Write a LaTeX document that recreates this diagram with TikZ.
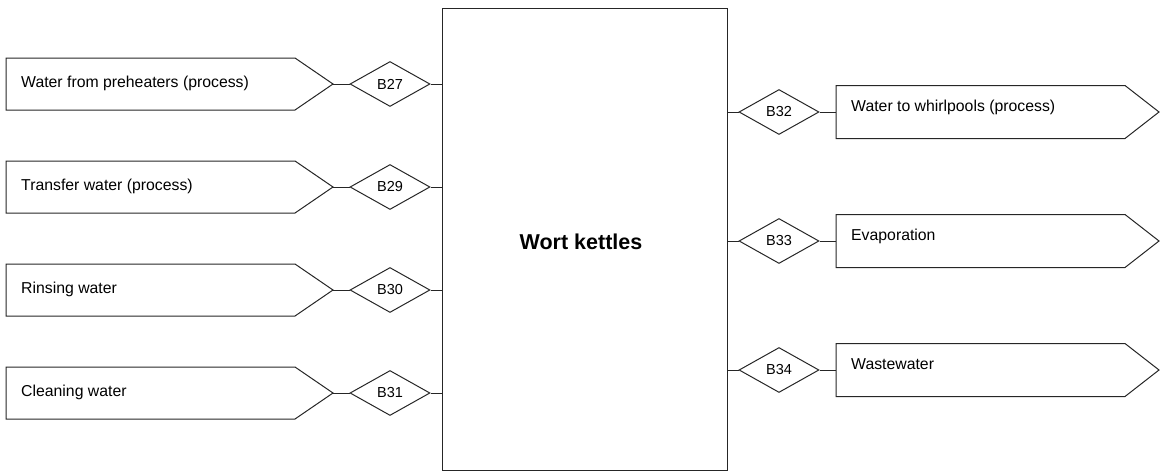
\documentclass[tikz,border=0pt]{standalone}
\usepackage{fontspec}
\setmainfont{Liberation Sans}
\usetikzlibrary{shapes.geometric}
\begin{document}
\begin{tikzpicture}[x=1pt,y=-1pt,
  line/.style={draw=black!85,line width=1pt},
  flowbox/.style={line,line join=miter},
  valve/.style={diamond,line,minimum width=80pt,minimum height=45pt,inner sep=0pt,font=\fontsize{14.5}{16}\selectfont},
  lbl/.style={anchor=base west,inner sep=0pt,font=\fontsize{15.8}{18}\selectfont}]
\useasboundingbox (0,0) rectangle (1165,474);
% central box
\node[line,rectangle,minimum width=285pt,minimum height=462pt,inner sep=0pt] (kettle) at (584.5,239) {};
\node[font=\bfseries\fontsize{21.5}{24}\selectfont] (kt) at (581,242) {Wort kettles};
% left inputs
\foreach \y/\n/\t in {84/27/Water from preheaters (process),187/29/Transfer water (process),290/30/Rinsing water,393/31/Cleaning water}{
  \draw[flowbox] (6,\y-26) -- (295,\y-26) -- (333,\y) -- (295,\y+26) -- (6,\y+26) -- cycle;
  \coordinate (tip\n) at (333,\y);
  \node[lbl] (t\n) at (21,\y+3.5) {\t};
  \node[valve] (b\n) at (390,\y) {\raisebox{-2.5pt}{B\n}};
  \coordinate (k\n) at (kettle.west |- 0,\y);
  \draw[line] (tip\n) -- (b\n.west);
  \draw[line] (b\n.east) -- (k\n);
}
% right outputs
\foreach \y/\n/\t in {112/32/Water to whirlpools (process),241/33/Evaporation,370/34/Wastewater}{
  \draw[flowbox] (836,\y-26.5) -- (1125,\y-26.5) -- (1159,\y) -- (1125,\y+26.5) -- (836,\y+26.5) -- cycle;
  \coordinate (in\n) at (836,\y);
  \node[lbl] (t\n) at (851,\y-1) {\t};
  \node[valve] (b\n) at (779,\y) {\raisebox{-2.5pt}{B\n}};
  \coordinate (k\n) at (kettle.east |- 0,\y);
  \draw[line] (k\n) -- (b\n.west);
  \draw[line] (b\n.east) -- (in\n);
}
\end{tikzpicture}
\end{document}
